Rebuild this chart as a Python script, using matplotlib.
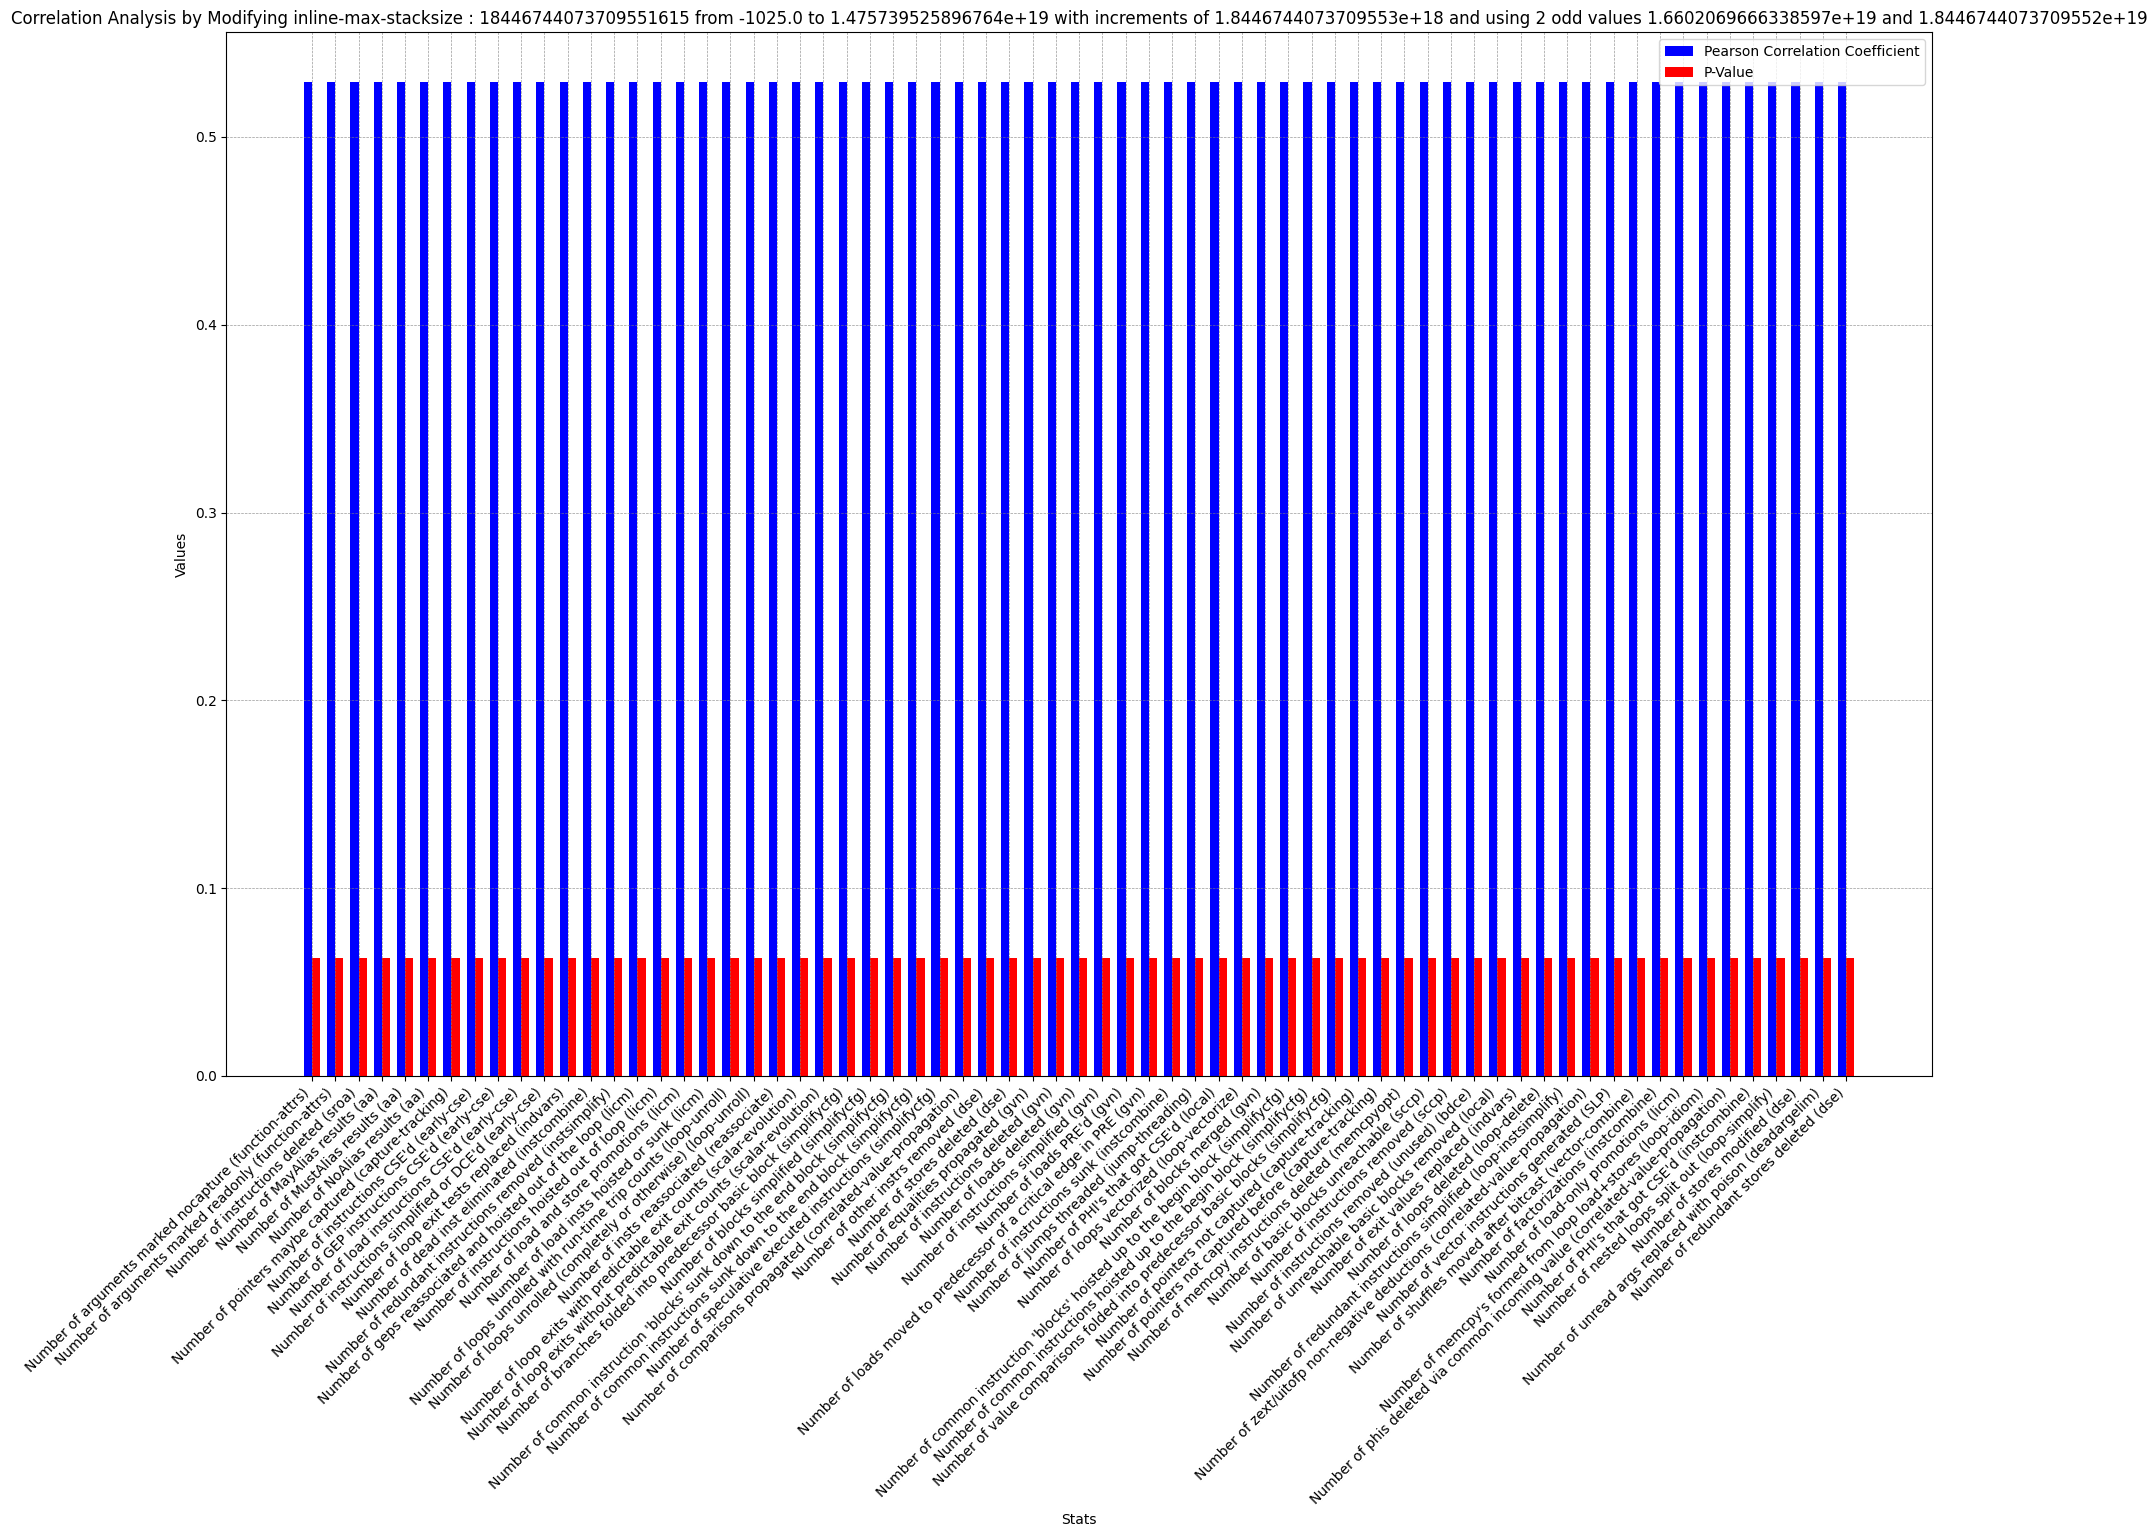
import numpy as np
import matplotlib
matplotlib.use("Agg")
import matplotlib.pyplot as plt

stats = [
    "Number of arguments marked nocapture (function-attrs)",
    "Number of arguments marked readonly (function-attrs)",
    "Number of instructions deleted (sroa)",
    "Number of MayAlias results (aa)",
    "Number of MustAlias results (aa)",
    "Number of NoAlias results (aa)",
    "Number of pointers maybe captured (capture-tracking)",
    "Number of instructions CSE'd (early-cse)",
    "Number of GEP instructions CSE'd (early-cse)",
    "Number of load instructions CSE'd (early-cse)",
    "Number of instructions simplified or DCE'd (early-cse)",
    "Number of loop exit tests replaced (indvars)",
    "Number of dead inst eliminated (instcombine)",
    "Number of redundant instructions removed (instsimplify)",
    "Number of geps reassociated and hoisted out of the loop (licm)",
    "Number of instructions hoisted out of loop (licm)",
    "Number of load and store promotions (licm)",
    "Number of load insts hoisted or sunk (licm)",
    "Number of loops unrolled with run-time trip counts (loop-unroll)",
    "Number of loops unrolled (completely or otherwise) (loop-unroll)",
    "Number of insts reassociated (reassociate)",
    "Number of loop exits with predictable exit counts (scalar-evolution)",
    "Number of loop exits without predictable exit counts (scalar-evolution)",
    "Number of branches folded into predecessor basic block (simplifycfg)",
    "Number of blocks simplified (simplifycfg)",
    "Number of common instruction 'blocks' sunk down to the end block (simplifycfg)",
    "Number of common instructions sunk down to the end block (simplifycfg)",
    "Number of speculative executed instructions (simplifycfg)",
    "Number of comparisons propagated (correlated-value-propagation)",
    "Number of other instrs removed (dse)",
    "Number of stores deleted (dse)",
    "Number of equalities propagated (gvn)",
    "Number of instructions deleted (gvn)",
    "Number of loads deleted (gvn)",
    "Number of instructions simplified (gvn)",
    "Number of loads PRE'd (gvn)",
    "Number of loads moved to predecessor of a critical edge in PRE (gvn)",
    "Number of instructions sunk (instcombine)",
    "Number of jumps threaded (jump-threading)",
    "Number of PHI's that got CSE'd (local)",
    "Number of loops vectorized (loop-vectorize)",
    "Number of blocks merged (gvn)",
    "Number of common instruction 'blocks' hoisted up to the begin block (simplifycfg)",
    "Number of common instructions hoisted up to the begin block (simplifycfg)",
    "Number of value comparisons folded into predecessor basic blocks (simplifycfg)",
    "Number of pointers not captured (capture-tracking)",
    "Number of pointers not captured before (capture-tracking)",
    "Number of memcpy instructions deleted (memcpyopt)",
    "Number of basic blocks unreachable (sccp)",
    "Number of instructions removed (sccp)",
    "Number of instructions removed (unused) (bdce)",
    "Number of unreachable basic blocks removed (local)",
    "Number of exit values replaced (indvars)",
    "Number of loops deleted (loop-delete)",
    "Number of redundant instructions simplified (loop-instsimplify)",
    "Number of zext/uitofp non-negative deductions (correlated-value-propagation)",
    "Number of vector instructions generated (SLP)",
    "Number of shuffles moved after bitcast (vector-combine)",
    "Number of factorizations (instcombine)",
    "Number of load-only promotions (licm)",
    "Number of memcpy's formed from loop load+stores (loop-idiom)",
    "Number of phis deleted via common incoming value (correlated-value-propagation)",
    "Number of PHI's that got CSE'd (instcombine)",
    "Number of nested loops split out (loop-simplify)",
    "Number of stores modified (dse)",
    "Number of unread args replaced with poison (deadargelim)",
    "Number of redundant stores deleted (dse)",
]

# every stat came out with (nearly) the same correlation in the reference
pearson = [0.5293] * len(stats)
p_values = [0.0628] * len(stats)

title = ("Correlation Analysis by Modifying inline-max-stacksize : 18446744073709551615 "
         "from -1025.0 to 1.475739525896764e+19 with increments of 1.8446744073709553e+18 "
         "and using 2 odd values 1.6602069666338597e+19 and 1.8446744073709552e+19")

x = np.arange(len(stats))
width = 0.35

fig, ax = plt.subplots(figsize=(21.56, 15.37), dpi=100)
ax.bar(x - width / 2, pearson, width, color="blue", label="Pearson Correlation Coefficient")
ax.bar(x + width / 2, p_values, width, color="red", label="P-Value")

ax.set_xticks(x)
ax.set_xticklabels(stats, rotation=45, ha="right")
ax.set_xlabel("Stats")
ax.set_ylabel("Values")
ax.set_title(title)
ax.legend(loc="upper right")
ax.grid(True, linestyle="--", linewidth=0.5, color="gray", alpha=0.8)

plt.subplots_adjust(left=0.105, right=0.896, top=0.979, bottom=0.300)
plt.savefig("out.png", dpi=100)
